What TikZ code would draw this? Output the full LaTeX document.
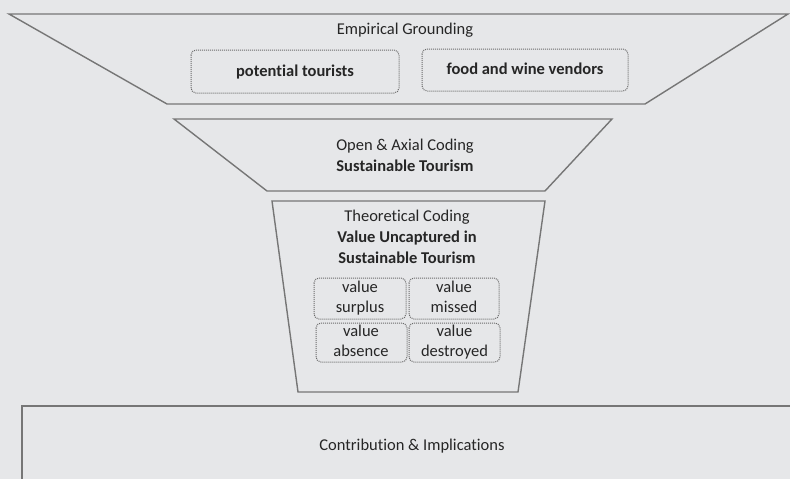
\documentclass[tikz,border=0pt]{standalone}
\usepackage{fontspec}
\setmainfont{Carlito}[Ligatures=NoCommon]
\definecolor{bg}{HTML}{E6E7E9}
\definecolor{edge}{HTML}{767676}
\definecolor{dots}{HTML}{6A6A6A}
\definecolor{txt}{HTML}{262626}
\begin{document}
\begin{tikzpicture}[x=1pt,y=-1pt,
  funnel/.style={draw=edge,line width=1.4pt,line join=miter},
  lbl/.style={text=txt,font=\fontsize{16.5}{21}\selectfont,align=center,inner sep=0pt},
  dbox/.style={draw=dots,densely dotted,line width=1pt,rounded corners=5pt},
  boxtxt/.style={text=txt,font=\fontsize{16.5}{20}\selectfont,align=center,inner sep=0pt}]
\fill[bg] (0,0) rectangle (790,479);
\useasboundingbox (0,0) rectangle (790,479);
\clip (0,0) rectangle (790,479);
% top funnel
\draw[funnel] (9,14) -- (788,14) -- (645,104) -- (167,104) -- cycle;
\node[lbl] (emp) at (405,30) {Empirical Grounding};
\draw[dbox] (191,50) rectangle (399,93);
\node[boxtxt,font=\fontsize{16.5}{20}\selectfont\bfseries] (pt) at (295,72) {\strut potential tourists};
\draw[dbox] (422,49) rectangle (628,91);
\node[boxtxt,font=\fontsize{16.5}{20}\selectfont\bfseries] (fw) at (525,70) {\strut food and wine vendors};
% middle funnel
\draw[funnel] (174,119) -- (612,119) -- (545,191) -- (267,191) -- cycle;
\node[lbl] (oac) at (405,155) {Open \& Axial Coding\\\textbf{Sustainable Tourism}};
% lower funnel
\draw[funnel] (272,201) -- (545,201) -- (518,392) -- (298,392) -- cycle;
\node[lbl] (tc) at (407,237) {Theoretical Coding\\\textbf{Value Uncaptured in}\\\textbf{Sustainable Tourism}};
\draw[dbox] (314,278) rectangle (406,319);
\node[boxtxt] (vs) at (360,298.5) {\strut value\\\strut surplus};
\draw[dbox] (409,278) rectangle (499,319);
\node[boxtxt] (vm) at (454,298.5) {\strut value\\\strut missed};
\draw[dbox] (316,323) rectangle (407,362);
\node[boxtxt] (va) at (361,342.5) {\strut value\\\strut absence};
\draw[dbox] (409,323) rectangle (500,362);
\node[boxtxt] (vd) at (454.5,342.5) {\strut value\\\strut destroyed};
% bottom box
\draw[funnel] (22,406) rectangle (800,500);
\node[lbl] (ci) at (412,446) {Contribution \& Implications};
\end{tikzpicture}
\end{document}
